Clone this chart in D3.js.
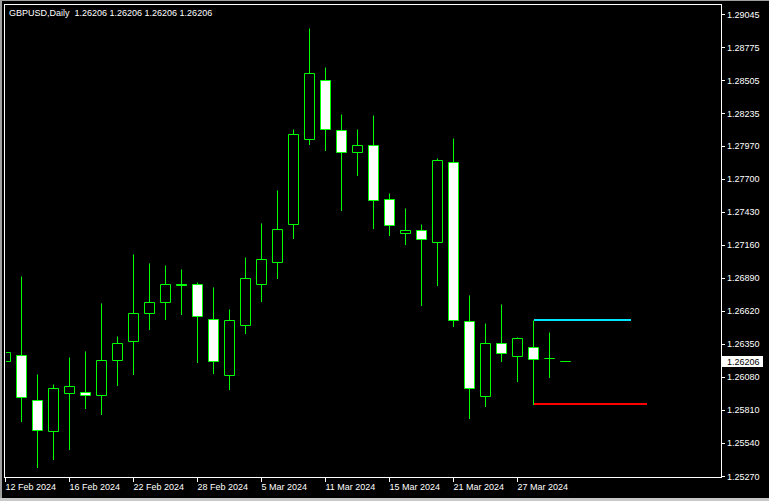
<!DOCTYPE html>
<html>
<head>
<meta charset="utf-8">
<script src="https://cdn.jsdelivr.net/npm/d3@7"></script>
<style>
  html, body { margin: 0; padding: 0; background: #000; }
  svg { display: block; }
  text { font-family: "Liberation Sans", Arial, sans-serif; font-size: 9px; }
</style>
</head>
<body>
<svg id="chart" width="769" height="501"></svg>
<script>
// ---- data ----
const symbol = "GBPUSD,Daily";
const dates = ["12 Feb","13 Feb","14 Feb","15 Feb","16 Feb","19 Feb","20 Feb","21 Feb","22 Feb","23 Feb",
  "26 Feb","27 Feb","28 Feb","29 Feb","1 Mar","4 Mar","5 Mar","6 Mar","7 Mar","8 Mar",
  "11 Mar","12 Mar","13 Mar","14 Mar","15 Mar","18 Mar","19 Mar","20 Mar","21 Mar","22 Mar",
  "25 Mar","26 Mar","27 Mar","28 Mar","29 Mar","1 Apr"];
const opens  = [1.26207,1.26256,1.25888,1.25635,1.25946,1.25954,1.25929,1.26215,1.26371,1.26599,
  1.26689,1.26836,1.26836,1.26550,1.26093,1.26501,1.26836,1.27016,1.27327,1.28021,
  1.28503,1.28095,1.27915,1.27972,1.27531,1.27253,1.27278,1.27180,1.27833,1.26534,
  1.25921,1.26354,1.26248,1.26322,1.26232,1.26206];
const highs  = [1.26536,1.26904,1.26103,1.26022,1.26242,1.26291,1.26683,1.26414,1.27084,1.27010,
  1.26994,1.26961,1.26855,1.26814,1.26634,1.27059,1.27337,1.27607,1.28105,1.28931,
  1.28612,1.28228,1.28105,1.28220,1.27582,1.27460,1.27329,1.27866,1.28032,1.26749,
  1.26520,1.26675,1.26406,1.26545,1.26447,1.26206];
const lows   = [1.26049,1.25722,1.25346,1.25411,1.25493,1.25828,1.25779,1.26016,1.26106,1.26469,
  1.26555,1.26596,1.26204,1.26114,1.25983,1.26441,1.26702,1.26890,1.27217,1.27985,
  1.27936,1.27446,1.27732,1.27299,1.27242,1.27168,1.26670,1.26833,1.26498,1.25746,
  1.25844,1.26212,1.26049,1.25858,1.26081,1.26206];
const closes = [1.26281,1.25913,1.25643,1.25986,1.26003,1.25929,1.26215,1.26354,1.26599,1.26689,
  1.26836,1.26830,1.26575,1.26207,1.26542,1.26885,1.27041,1.27286,1.28062,1.28560,
  1.28103,1.27915,1.27972,1.27523,1.27318,1.27278,1.27204,1.27850,1.26542,1.25986,
  1.26354,1.26272,1.26395,1.26223,1.26232,1.26206];
const priceTicks = [1.29045,1.28775,1.28505,1.28235,1.27970,1.27700,1.27430,1.27160,
  1.26890,1.26620,1.26350,1.26080,1.25810,1.25540,1.25270];
const dateTickIdx = [0,4,8,12,16,20,24,28,32];
const dateTickLabels = ["12 Feb 2024","16 Feb 2024","22 Feb 2024","28 Feb 2024","5 Mar 2024",
  "11 Mar 2024","15 Mar 2024","21 Mar 2024","27 Mar 2024"];
const levelPrices = [1.26545, 1.25858];   // high / low of 28 Mar bar
const levelStart = [33, 33];
const levelEnd = [39.1, 40.1];
const currentPrice = 1.26206;

// ---- layout ----
const svg = d3.select("#chart");
const frame = {left: 5, right: 721, top: 5, bottom: 477};
const x = d3.scaleLinear().domain([0, dates.length - 1]).range([5, 5 + 16 * (dates.length - 1)]);
const y = d3.scaleLinear().domain([1.25270, 1.29045]).range([476, 14]);
const px = v => Math.round(x(v)) + 0.5;
const py = v => Math.round(y(v)) + 0.5;

svg.append("rect").attr("width", 769).attr("height", 501).attr("fill", "#000");
// window edges
svg.append("rect").attr("x", 0).attr("y", 0).attr("width", 2).attr("height", 501).attr("fill", "#a0a0a0");
svg.append("rect").attr("x", 0).attr("y", 0).attr("width", 769).attr("height", 1).attr("fill", "#a0a0a0");
svg.append("rect").attr("x", 0).attr("y", 498).attr("width", 769).attr("height", 3).attr("fill", "#c8c8c8");

svg.append("defs").append("clipPath").attr("id", "plotclip")
  .append("rect").attr("x", frame.left + 1).attr("y", frame.top + 1)
  .attr("width", frame.right - frame.left - 1).attr("height", frame.bottom - frame.top - 1);

const plot = svg.append("g").attr("clip-path", "url(#plotclip)");

const bars = d3.range(dates.length).map(i => ({i, o: opens[i], h: highs[i], l: lows[i], c: closes[i]}));

// wicks
plot.selectAll("line.wick").data(bars.filter(d => d.h !== d.l)).join("line")
  .attr("class", "wick")
  .attr("x1", d => px(d.i)).attr("x2", d => px(d.i))
  .attr("y1", d => py(d.h)).attr("y2", d => py(d.l) + 0.5)
  .attr("stroke", "#00ff00").attr("stroke-width", 1);

// bodies
plot.selectAll("path.body").data(bars).join("path")
  .attr("class", "body")
  .attr("d", d => {
    const x0 = px(d.i) - 5, x1 = px(d.i) + 5;
    const y0 = py(Math.max(d.o, d.c)), y1 = py(Math.min(d.o, d.c));
    return `M${x0},${y0}H${x1}V${y1}H${x0}Z`;
  })
  .attr("fill", d => d.c > d.o ? "#000" : "#fff")
  .attr("stroke", "#00ff00").attr("stroke-width", 1);

// levels
const levelColors = ["#00e5ff", "#ff0000"];
plot.selectAll("line.level").data(levelPrices).join("line")
  .attr("class", "level")
  .attr("x1", (d, k) => px(levelStart[k]) + 0.5).attr("x2", (d, k) => Math.round(x(levelEnd[k])))
  .attr("y1", d => Math.round(y(d))).attr("y2", d => Math.round(y(d)))
  .attr("stroke", (d, k) => levelColors[k]).attr("stroke-width", 2);

// frame
svg.append("rect").attr("x", frame.left - 0.5).attr("y", frame.top - 0.5)
  .attr("width", frame.right - frame.left + 1).attr("height", frame.bottom - frame.top + 1)
  .attr("fill", "none").attr("stroke", "#fff").attr("stroke-width", 1);

// price axis
const pa = svg.append("g");
pa.selectAll("line").data(priceTicks).join("line")
  .attr("x1", frame.right + 1).attr("x2", frame.right + 4)
  .attr("y1", d => py(d)).attr("y2", d => py(d))
  .attr("stroke", "#fff");
pa.selectAll("text").data(priceTicks).join("text")
  .attr("x", 727).attr("y", d => y(d) + 3.5)
  .attr("fill", "#fff")
  .text(d => d.toFixed(5));

// current price label
svg.append("rect").attr("x", 722).attr("y", Math.round(y(currentPrice)) - 5)
  .attr("width", 41).attr("height", 11).attr("fill", "#fff");
svg.append("text").attr("x", 727).attr("y", y(currentPrice) + 3.5)
  .attr("fill", "#000").text(currentPrice.toFixed(5));

// date axis
const da = svg.append("g");
da.selectAll("line").data(dateTickIdx).join("line")
  .attr("x1", d => px(d)).attr("x2", d => px(d))
  .attr("y1", frame.bottom + 1).attr("y2", frame.bottom + 5)
  .attr("stroke", "#fff");
da.selectAll("text").data(dateTickIdx).join("text")
  .attr("x", d => Math.round(x(d)) + 0.5).attr("y", 490)
  .attr("fill", "#fff")
  .text((d, k) => dateTickLabels[k]);

// title
const last = dates.length - 1;
svg.append("text").attr("x", 9).attr("y", 16).attr("fill", "#fff")
  .attr("xml:space", "preserve").style("white-space", "pre")
  .text(`${symbol}  ${opens[last].toFixed(5)} ${highs[last].toFixed(5)} ${lows[last].toFixed(5)} ${closes[last].toFixed(5)}`);
</script>
</body>
</html>
